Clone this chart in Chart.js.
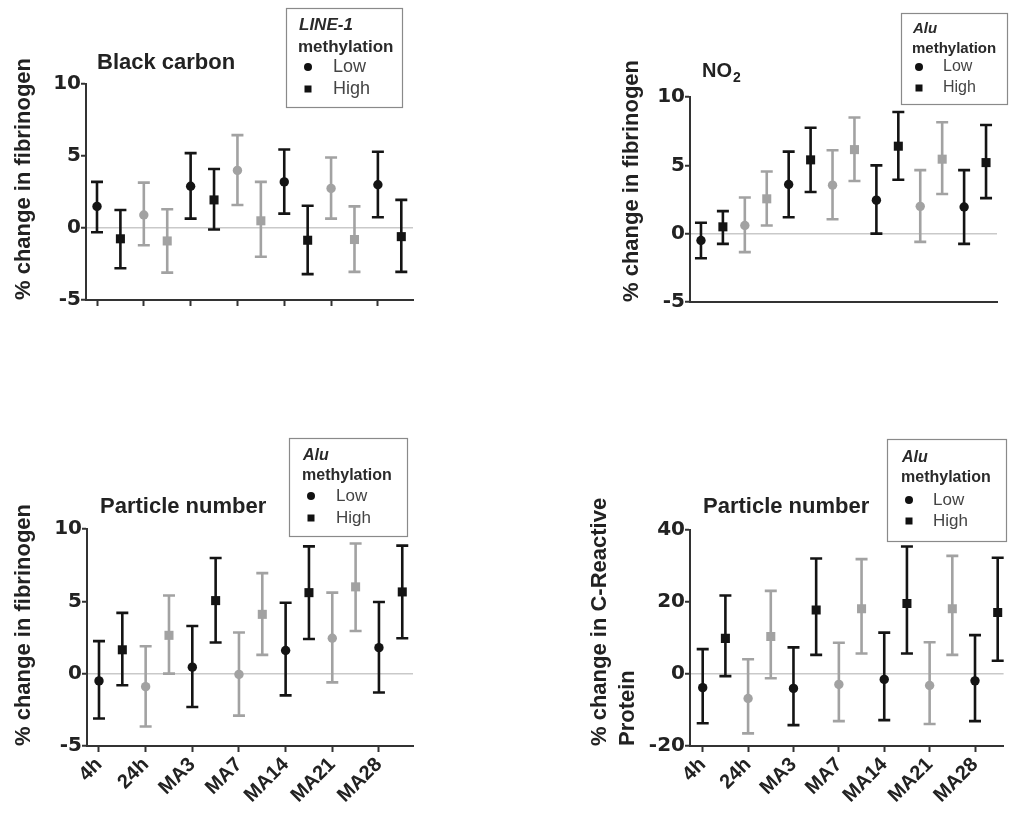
<!DOCTYPE html>
<html>
<head>
<meta charset="utf-8">
<script src="https://cdn.jsdelivr.net/npm/chart.js@4.4.1/dist/chart.umd.min.js"></script>
<style>
  body { margin: 0; background: #fff; }
  #page { position: relative; width: 1010px; height: 819px; overflow: hidden; background: #fff; }
  #page canvas { position: absolute; }
</style>
</head>
<body>
<div id="page">
  <canvas id="bcChart" width="420" height="330" style="left:0px;top:0px"></canvas>
  <canvas id="no2Chart" width="410" height="330" style="left:600px;top:0px"></canvas>
  <canvas id="pnFibChart" width="420" height="409" style="left:0px;top:410px"></canvas>
  <canvas id="pnCrpChart" width="440" height="409" style="left:570px;top:410px"></canvas>
</div>
<script>
// Exposure windows (x axis)
const categories = ['4h', '24h', 'MA3', 'MA7', 'MA14', 'MA21', 'MA28'];
// every other window is drawn in grey
const catColors = ['#141414', '#a2a2a2', '#141414', '#a2a2a2', '#141414', '#a2a2a2', '#141414'];

// Black carbon -> fibrinogen, LINE-1 methylation
const bcLow = [1.5, 0.9, 2.9, 4.0, 3.2, 2.75, 3.0];
const bcLowLo = [-0.3, -1.2, 0.65, 1.6, 1.0, 0.65, 0.75];
const bcLowHi = [3.2, 3.15, 5.2, 6.45, 5.45, 4.9, 5.3];
const bcHigh = [-0.75, -0.9, 1.95, 0.5, -0.85, -0.8, -0.6];
const bcHighLo = [-2.8, -3.1, -0.1, -2.0, -3.2, -3.05, -3.05];
const bcHighHi = [1.25, 1.3, 4.1, 3.2, 1.55, 1.5, 1.95];

// NO2 -> fibrinogen, Alu methylation
const no2Low = [-0.5, 0.6, 3.6, 3.55, 2.45, 2.0, 1.95];
const no2LowLo = [-1.8, -1.35, 1.2, 1.05, 0.0, -0.6, -0.75];
const no2LowHi = [0.8, 2.65, 6.0, 6.1, 5.0, 4.65, 4.65];
const no2High = [0.5, 2.55, 5.4, 6.15, 6.4, 5.45, 5.2];
const no2HighLo = [-0.75, 0.6, 3.05, 3.85, 3.95, 2.9, 2.6];
const no2HighHi = [1.65, 4.55, 7.75, 8.5, 8.9, 8.15, 7.95];

// Particle number -> fibrinogen, Alu methylation
const pnFibLow = [-0.5, -0.9, 0.45, -0.05, 1.6, 2.45, 1.8];
const pnFibLowLo = [-3.1, -3.65, -2.3, -2.9, -1.5, -0.6, -1.3];
const pnFibLowHi = [2.25, 1.9, 3.3, 2.85, 4.9, 5.6, 4.95];
const pnFibHigh = [1.65, 2.65, 5.05, 4.1, 5.6, 6.0, 5.65];
const pnFibHighLo = [-0.8, 0.0, 2.15, 1.3, 2.4, 2.95, 2.45];
const pnFibHighHi = [4.2, 5.4, 8.0, 6.95, 8.8, 9.0, 8.85];

// Particle number -> C-Reactive Protein, Alu methylation
const pnCrpLow = [-3.8, -6.8, -4.0, -2.9, -1.5, -3.2, -1.9];
const pnCrpLowLo = [-13.7, -16.5, -14.2, -13.1, -12.8, -13.9, -13.1];
const pnCrpLowHi = [6.9, 4.1, 7.4, 8.7, 11.5, 8.8, 10.8];
const pnCrpHigh = [9.9, 10.4, 17.8, 18.1, 19.6, 18.1, 17.1];
const pnCrpHighLo = [-0.6, -1.2, 5.3, 5.7, 5.7, 5.3, 3.7];
const pnCrpHighHi = [21.8, 23.1, 32.1, 31.9, 35.4, 32.8, 32.3];

const textColor = '#222';
const axisColor = '#333';
const sans = '"Liberation Sans", Arial, sans-serif';

// Draws the 95% CI whiskers under each point
const errorBars = {
    id: 'errorBars',
    beforeDatasetsDraw(chart) {
        const { ctx, scales: { x, y } } = chart;
        ctx.save();
        ctx.lineWidth = 2.6;
        chart.data.datasets.forEach(ds => {
            ds.data.forEach((p, i) => {
                const px = x.getPixelForValue(p.x);
                const top = y.getPixelForValue(p.hi);
                const bot = y.getPixelForValue(p.lo);
                ctx.strokeStyle = catColors[i];
                ctx.beginPath();
                ctx.moveTo(px, top); ctx.lineTo(px, bot);
                ctx.moveTo(px - 6, top); ctx.lineTo(px + 6, top);
                ctx.moveTo(px - 6, bot); ctx.lineTo(px + 6, bot);
                ctx.stroke();
            });
        });
        ctx.restore();
    }
};

// Panel title and the boxed methylation legend
const panelText = {
    id: 'panelText',
    afterDraw(chart, args, opts) {
        const ctx = chart.ctx;
        ctx.save();
        ctx.fillStyle = textColor;
        ctx.textBaseline = 'alphabetic';
        ctx.textAlign = 'left';
        ctx.font = 'bold ' + opts.titleSize + 'px ' + sans;
        ctx.fillText(opts.title, opts.titleX, opts.titleY);
        if (opts.sub) {
            const w = ctx.measureText(opts.title).width;
            ctx.font = 'bold ' + Math.round(opts.titleSize * 0.7) + 'px ' + sans;
            ctx.fillText(opts.sub, opts.titleX + w + 1, opts.titleY + 5);
        }

        // legend box
        const bx = opts.boxX, by = opts.boxY, r = opts.rows, fs = opts.legendSize;
        ctx.strokeStyle = '#8a8a8a';
        ctx.lineWidth = 1.2;
        ctx.strokeRect(bx + 0.5, by + 0.5, opts.boxW, opts.boxH);
        ctx.fillStyle = '#2a2a2a';
        ctx.font = 'italic bold ' + fs + 'px ' + sans;
        ctx.fillText(opts.gene, bx + opts.padX + 1, by + r[0]);
        ctx.font = 'bold ' + fs + 'px ' + sans;
        ctx.fillText('methylation', bx + opts.padX, by + r[1]);
        ctx.font = (fs + 1) + 'px ' + sans;
        ctx.fillStyle = '#444';
        ctx.textBaseline = 'middle';
        ctx.fillText('Low', bx + opts.textX, by + r[2]);
        ctx.fillText('High', bx + opts.textX, by + r[3]);
        ctx.fillStyle = '#111';
        ctx.beginPath();
        ctx.arc(bx + opts.markX, by + r[2], 4, 0, Math.PI * 2);
        ctx.fill();
        ctx.fillRect(bx + opts.markX - 3.5, by + r[3] - 3.5, 7, 7);
        ctx.restore();
    }
};

function makePanel(canvasId, p) {
    const canvas = document.getElementById(canvasId);
    const W = canvas.width, H = canvas.height;
    const a = p.area;
    const lowData = categories.map((c, i) => ({ x: i, y: p.low[i], lo: p.lowLo[i], hi: p.lowHi[i] }));
    const highData = categories.map((c, i) => ({ x: i + 0.5, y: p.high[i], lo: p.highLo[i], hi: p.highHi[i] }));

    return new Chart(canvas, {
        type: 'scatter',
        data: {
            datasets: [{
                label: 'Low',
                data: lowData,
                pointStyle: 'circle',
                pointRadius: 4.7,
                pointBorderWidth: 0,
                pointBackgroundColor: catColors,
                pointBorderColor: catColors
            }, {
                label: 'High',
                data: highData,
                pointStyle: 'rect',
                pointRadius: 6.4,
                pointBorderWidth: 0,
                pointBackgroundColor: catColors,
                pointBorderColor: catColors
            }]
        },
        options: {
            responsive: false,
            animation: false,
            events: [],
            layout: { padding: { left: 0, top: a.top, right: W - a.right, bottom: 0 } },
            plugins: {
                legend: { display: false },
                tooltip: { enabled: false },
                panelText: p.text
            },
            scales: {
                x: {
                    type: 'linear',
                    min: p.xMin,
                    max: p.xMax,
                    afterFit: s => { s.height = H - a.bottom; },
                    border: { color: axisColor, width: 2 },
                    grid: { color: 'transparent', tickColor: axisColor, tickLength: 6, tickWidth: 2 },
                    ticks: {
                        display: p.showLabels,
                        stepSize: 1,
                        includeBounds: false,
                        autoSkip: false,
                        minRotation: 45,
                        maxRotation: 45,
                        padding: 1,
                        color: textColor,
                        font: { family: sans, size: 20, weight: 'bold' },
                        callback: v => categories[v]
                    }
                },
                y: {
                    min: p.yMin,
                    max: p.yMax,
                    afterFit: s => { s.width = a.left; },
                    border: { color: axisColor, width: 2 },
                    grid: {
                        color: c => (c.tick && c.tick.value === 0) ? '#c9c9c9' : 'transparent',
                        lineWidth: 1.5,
                        tickColor: axisColor,
                        tickLength: 5,
                        tickWidth: 2
                    },
                    ticks: {
                        stepSize: p.yStep,
                        padding: 0,
                        color: textColor,
                        font: { family: '"DejaVu Sans", sans-serif', size: 20, weight: 'bold' }
                    },
                    title: {
                        display: true,
                        text: p.yTitle,
                        align: 'start',
                        color: textColor,
                        font: { family: sans, size: 22, weight: 'bold', lineHeight: 1.27 },
                        padding: { top: p.yTitlePad, bottom: 0 }
                    }
                }
            }
        },
        plugins: [errorBars, panelText]
    });
}

// Black carbon
makePanel('bcChart', {
    low: bcLow, lowLo: bcLowLo, lowHi: bcLowHi,
    high: bcHigh, highLo: bcHighLo, highHi: bcHighHi,
    area: { left: 86, top: 84, right: 413, bottom: 300 },
    xMin: -0.235, xMax: 6.75, yMin: -5, yMax: 10, yStep: 5,
    showLabels: false,
    yTitle: '% change in fibrinogen', yTitlePad: 10,
    text: { title: 'Black carbon', titleSize: 22, titleX: 97, titleY: 69,
            gene: 'LINE-1', boxX: 286, boxY: 8, boxW: 116, boxH: 99,
            legendSize: 17, padX: 12, markX: 22, textX: 47, rows: [22, 44, 59, 81] }
});

// NO2
makePanel('no2Chart', {
    low: no2Low, lowLo: no2LowLo, lowHi: no2LowHi,
    high: no2High, highLo: no2HighLo, highHi: no2HighHi,
    area: { left: 90, top: 97, right: 397, bottom: 302 },
    xMin: -0.25, xMax: 6.75, yMin: -5, yMax: 10, yStep: 5,
    showLabels: false,
    yTitle: '% change in fibrinogen', yTitlePad: 18,
    text: { title: 'NO', sub: '2', titleSize: 20, titleX: 102, titleY: 77,
            gene: 'Alu', boxX: 301, boxY: 13, boxW: 106, boxH: 91,
            legendSize: 15, padX: 11, markX: 18, textX: 42, rows: [20, 40, 54, 75] }
});

// Particle number, fibrinogen
makePanel('pnFibChart', {
    low: pnFibLow, lowLo: pnFibLowLo, lowHi: pnFibLowHi,
    high: pnFibHigh, highLo: pnFibHighLo, highHi: pnFibHighHi,
    area: { left: 87, top: 119, right: 413, bottom: 336 },
    xMin: -0.257, xMax: 6.73, yMin: -5, yMax: 10, yStep: 5,
    showLabels: true,
    yTitle: '% change in fibrinogen', yTitlePad: 10,
    text: { title: 'Particle number', titleSize: 22, titleX: 100, titleY: 103,
            gene: 'Alu', boxX: 289, boxY: 28, boxW: 118, boxH: 98,
            legendSize: 16, padX: 13, markX: 22, textX: 47, rows: [22, 42, 58, 80] }
});

// Particle number, CRP
makePanel('pnCrpChart', {
    low: pnCrpLow, lowLo: pnCrpLowLo, lowHi: pnCrpLowHi,
    high: pnCrpHigh, highLo: pnCrpHighLo, highHi: pnCrpHighHi,
    area: { left: 120, top: 120, right: 440, bottom: 336 },
    xMin: -0.28, xMax: 6.63, yMin: -20, yMax: 40, yStep: 20,
    showLabels: true,
    yTitle: ['% change in C-Reactive', 'Protein'], yTitlePad: 16,
    text: { title: 'Particle number', titleSize: 22, titleX: 133, titleY: 103,
            gene: 'Alu', boxX: 317, boxY: 29, boxW: 119, boxH: 102,
            legendSize: 16, padX: 14, markX: 22, textX: 46, rows: [23, 43, 61, 82] }
});
</script>
</body>
</html>
